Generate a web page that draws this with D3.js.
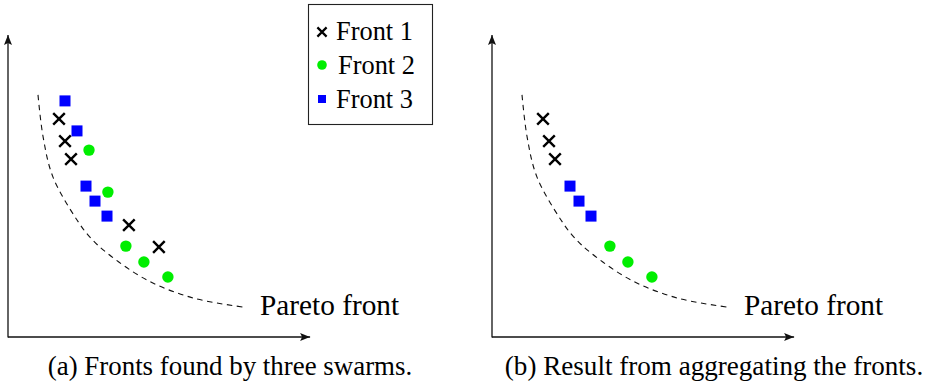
<!DOCTYPE html>
<html>
<head>
<meta charset="utf-8">
<script src="https://cdn.jsdelivr.net/npm/d3@7"></script>
<style>
  body { margin: 0; background: #fff; }
</style>
</head>
<body>
<script>
// values, in axis units (0..10 on both axes)
var front1 = [[1.7, 7.27], [1.9, 6.53], [2.1, 5.93], [4.03, 3.73], [5.03, 3.0]]
var front2 = [[2.7, 6.23], [3.33, 4.83], [3.93, 3.03], [4.53, 2.5], [5.33, 2.0]]
var front3 = [[1.9, 7.87], [2.3, 6.87], [2.6, 5.03], [2.9, 4.53], [3.3, 4.03]]
// aggregated result: the non dominated points of each front
var aggFront1 = [[1.7, 7.27], [1.9, 6.53], [2.1, 5.93]]
var aggFront2 = [[3.93, 3.03], [4.53, 2.5], [5.33, 2.0]]
var aggFront3 = [[2.6, 5.03], [2.9, 4.53], [3.3, 4.03]]
var pareto = [[1.0, 8.07], [1.17, 6.67], [1.5, 5.33], [2.3, 3.9], [2.73, 3.33], [3.3, 2.8], [4.63, 1.9], [6.17, 1.3], [7.83, 1.0]]
var legendNames = ["Front 1", "Front 2", "Front 3"]
var captions = ["(a) Fronts found by three swarms.", "(b) Result from aggregating the fronts."]
var paretoLabel = "Pareto front"

var W = 930, H = 383
var FONT = "'Liberation Serif'"

var svg = d3.select("body").append("svg")
  .attr("width", W)
  .attr("height", H)

var defs = svg.append("defs")
defs.append("marker")
  .attr("id", "arrow")
  .attr("viewBox", "0 0 10 8")
  .attr("refX", 10).attr("refY", 4)
  .attr("markerWidth", 10).attr("markerHeight", 8)
  .attr("markerUnits", "userSpaceOnUse")
  .attr("orient", "auto")
  .append("path")
  .attr("d", "M0,0 L10,4 L0,8 L2,4 Z")
  .attr("fill", "#111")

var line = d3.line().curve(d3.curveCatmullRom)

// grow or shrink a label so it spans the width seen in the reference
function fit(sel, width) {
  var fs = +sel.attr("font-size")
  var w = sel.node().getComputedTextLength()
  if (w > 0) sel.attr("font-size", Math.round(fs * width / w * 10) / 10)
  return sel
}

function label(g, x, y, size, txt) {
  return g.append("text")
    .attr("x", x).attr("y", y)
    .attr("font-size", size)
    .style("font-family", FONT)
    .text(txt)
}

function cross(g, x, y, s, w) {
  g.append("path")
    .attr("d", "M" + (x - s) + "," + (y - s) + "L" + (x + s) + "," + (y + s) +
               "M" + (x - s) + "," + (y + s) + "L" + (x + s) + "," + (y - s))
    .attr("stroke", "#000")
    .attr("stroke-width", w)
}

function panel(left, sets, caption, captionX, captionW) {
  var x = d3.scaleLinear().domain([0, 10]).range([left, left + 300])
  var y = d3.scaleLinear().domain([0, 10]).range([337, 37])
  var g = svg.append("g")

  // axes with arrow heads
  g.append("line")
    .attr("x1", x(0)).attr("y1", y(0))
    .attr("x2", x(10.07)).attr("y2", y(0))
    .attr("stroke", "#111").attr("stroke-width", 1.3)
    .attr("marker-end", "url(#arrow)")
  g.append("line")
    .attr("x1", x(0)).attr("y1", y(0) + 0.6)
    .attr("x2", x(0)).attr("y2", y(10.07))
    .attr("stroke", "#111").attr("stroke-width", 1.3)
    .attr("marker-end", "url(#arrow)")

  line.x(function(d) { return x(d[0]) }).y(function(d) { return y(d[1]) })
  g.append("path")
    .attr("d", line(pareto))
    .attr("fill", "none")
    .attr("stroke", "#111")
    .attr("stroke-width", 1.1)
    .attr("stroke-dasharray", "5.5,4.5")

  fit(label(g, x(8.4), 315, 28, paretoLabel), 139)

  sets.f1.forEach(function(d) { cross(g, x(d[0]), y(d[1]), 5.8, 2.4) })

  g.selectAll("circle.f2").data(sets.f2).enter().append("circle")
    .attr("class", "f2")
    .attr("cx", function(d) { return x(d[0]) })
    .attr("cy", function(d) { return y(d[1]) })
    .attr("r", 5.7)
    .attr("fill", "#00ee00")

  g.selectAll("rect.f3").data(sets.f3).enter().append("rect")
    .attr("class", "f3")
    .attr("x", function(d) { return x(d[0]) - 5.5 })
    .attr("y", function(d) { return y(d[1]) - 5.5 })
    .attr("width", 11).attr("height", 11)
    .attr("fill", "#0000ff")

  fit(label(svg, captionX, 375, 26, caption).attr("text-anchor", "middle"), captionW)
}

panel(8, {f1: front1, f2: front2, f3: front3}, captions[0], 230, 364)
panel(492, {f1: aggFront1, f2: aggFront2, f3: aggFront3}, captions[1], 714, 418)

// legend
var lg = svg.append("g")
lg.append("rect")
  .attr("x", 308.5).attr("y", 4.5)
  .attr("width", 124).attr("height", 120)
  .attr("fill", "#fff")
  .attr("stroke", "#222").attr("stroke-width", 1.1)

cross(lg, 322, 32, 4.6, 2.2)
lg.append("circle").attr("cx", 322).attr("cy", 65).attr("r", 4.8).attr("fill", "#00ee00")
lg.append("rect").attr("x", 318).attr("y", 95).attr("width", 8).attr("height", 8).attr("fill", "#0000ff")

legendNames.forEach(function(d, i) {
  fit(label(lg, i == 1 ? 338 : 336, 39.5 + i * 34, 26, d), 77)
})
</script>
</body>
</html>
